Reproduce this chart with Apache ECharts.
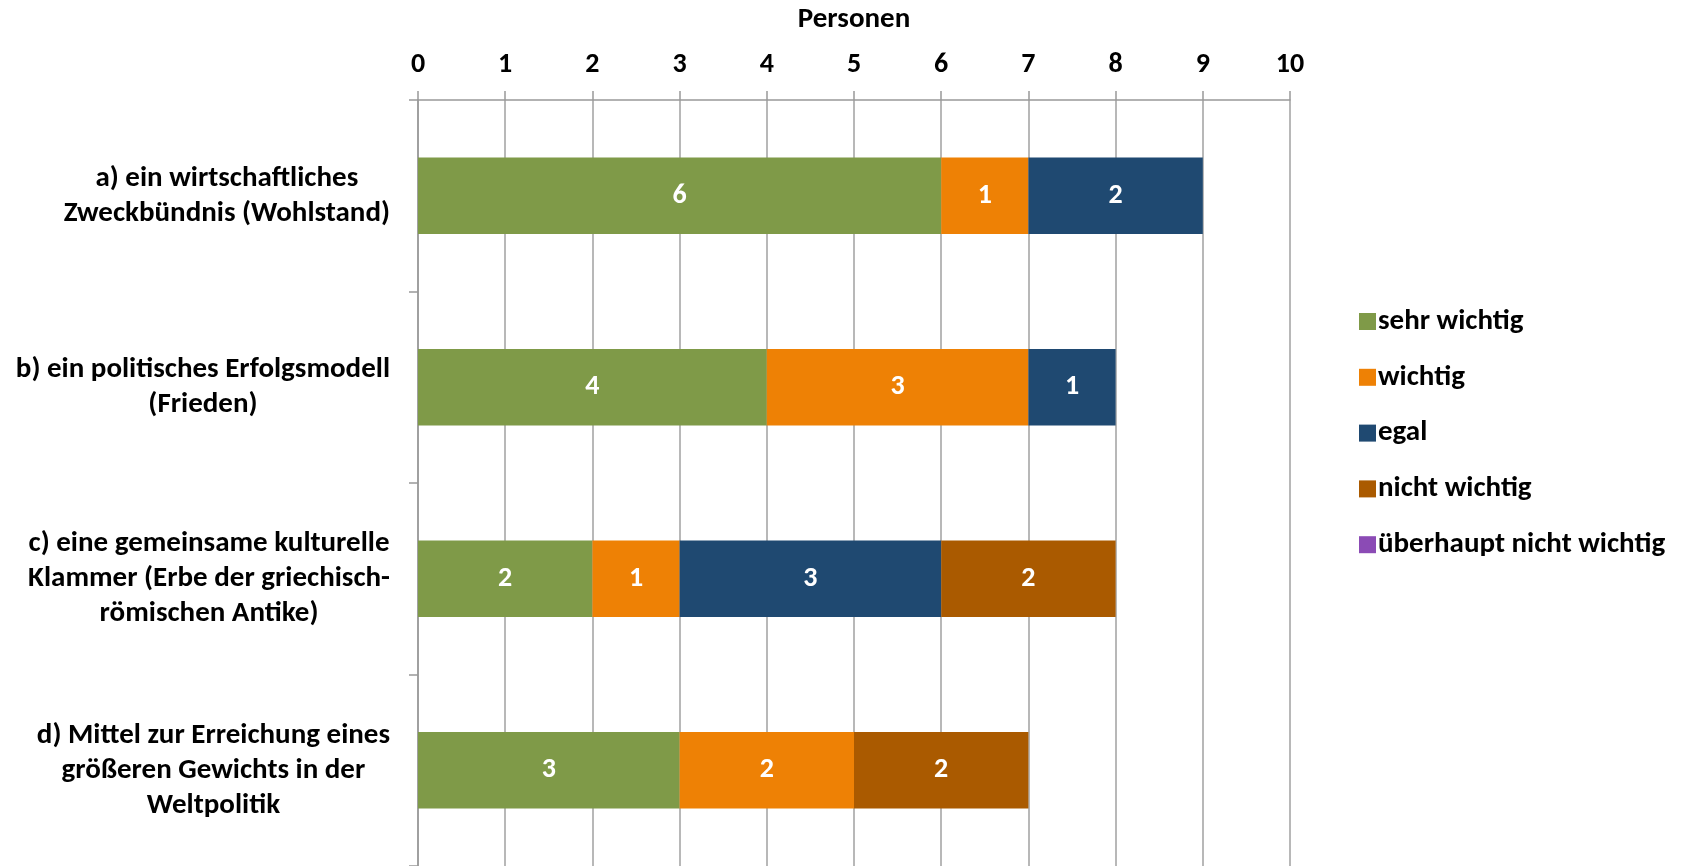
<!DOCTYPE html>
<html>
<head>
<meta charset="utf-8">
<script src="https://cdn.jsdelivr.net/npm/echarts@6/dist/echarts.min.js"></script>
<style>
html,body{margin:0;padding:0;background:#fff;}
#chart{width:1688px;height:866px;}
</style>
</head>
<body>
<div id="chart"></div>
<script>
const categories = [
  "a) ein wirtschaftliches\nZweckbündnis (Wohlstand)",
  "b) ein politisches Erfolgsmodell\n(Frieden)",
  "c) eine gemeinsame kulturelle\nKlammer (Erbe der griechisch-\nrömischen Antike)",
  "d) Mittel zur Erreichung eines\ngrößeren Gewichts in der\nWeltpolitik"
];
const seriesNames = ["sehr wichtig", "wichtig", "egal", "nicht wichtig", "überhaupt nicht wichtig"];
const sehrWichtig = [6, 4, 2, 3];
const wichtig = [1, 3, 1, 2];
const egal = [2, 1, 3, 0];
const nichtWichtig = [0, 0, 2, 2];
const ueberhauptNichtWichtig = [0, 0, 0, 0];
const seriesValues = [sehrWichtig, wichtig, egal, nichtWichtig, ueberhauptNichtWichtig];
const colors = ["#7F9A48", "#EE8105", "#1F4971", "#AA5A00", "#8B4BB5"];
const axisTitle = "Personen";

const FONT = "Carlito, Lato, 'Open Sans', sans-serif";
const chart = echarts.init(document.getElementById('chart'), null, {renderer: 'canvas'});
chart.setOption({
  animation: false,
  backgroundColor: '#fff',
  color: colors,
  grid: {left: 418, right: 398, top: 93, bottom: -5, containLabel: false},
  legend: {
    orient: 'vertical',
    left: 1354,
    top: 302,
    itemWidth: 17,
    itemHeight: 17,
    itemGap: 26.8,
    icon: 'rect',
    textStyle: {fontFamily: FONT, fontWeight: 'bold', fontSize: 29, color: '#000', lineHeight: 29, padding: [0,0,0,-3]},
    data: seriesNames
  },
  xAxis: {
    type: 'value',
    position: 'top',
    min: 0, max: 10, interval: 1,
    name: axisTitle,
    nameLocation: 'middle',
    nameGap: 66,
    nameTextStyle: {fontFamily: FONT, fontWeight: 'bold', fontSize: 29, color: '#000'},
    axisLine: {show: true, lineStyle: {color: '#999', width: 1.5}},
    axisTick: {show: true, length: 9, lineStyle: {color: '#999', width: 1.5}},
    axisLabel: {fontFamily: FONT, fontWeight: 'bold', fontSize: 28, color: '#000', margin: 21},
    splitLine: {show: true, lineStyle: {color: '#A0A0A0', width: 1.5}}
  },
  yAxis: {
    type: 'category',
    inverse: true,
    data: categories,
    axisLine: {show: true, lineStyle: {color: '#999', width: 1.5}},
    axisTick: {show: true, length: 9, lineStyle: {color: '#999', width: 1.5}},
    axisLabel: {
      margin: 28,
      formatter: function (v) { return v.split('\n').map(l => '{c|' + l + '}').join('\n'); },
      rich: {c: {align: 'center', fontFamily: FONT, fontWeight: 'bold', fontSize: 29, color: '#000', lineHeight: 35}}
    },
    splitLine: {show: false}
  },
  series: seriesNames.map((name, i) => ({
    name: name,
    type: 'bar',
    stack: 'total',
    barWidth: '40%',
    data: seriesValues[i],
    itemStyle: {color: colors[i]},
    label: {
      show: true,
      position: 'inside',
      color: '#fff',
      fontFamily: FONT,
      fontWeight: 'bold',
      fontSize: 28,
      formatter: p => p.value > 0 ? String(p.value) : ''
    }
  }))
});
</script>
</body>
</html>
